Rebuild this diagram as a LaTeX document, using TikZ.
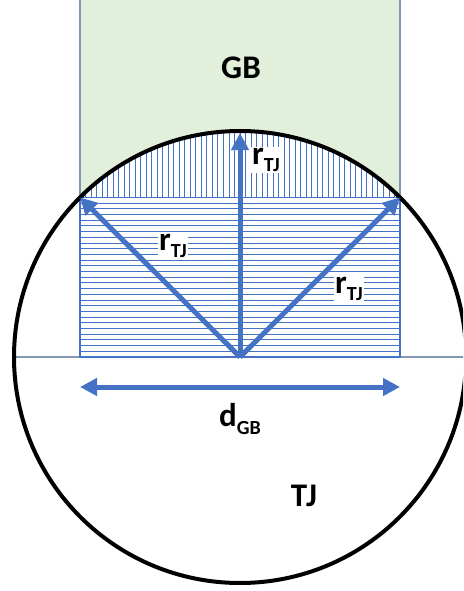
\documentclass[tikz,border=0pt]{standalone}
\usepackage{fontspec}
\setmainfont{Carlito}
\usetikzlibrary{arrows.meta}
\definecolor{gbgreen}{HTML}{E2EFDA}
\definecolor{tjblue}{HTML}{4472C4}
\definecolor{edgegray}{HTML}{8497B0}
\newcommand\lowsub[1]{\raisebox{-0.22em}{\fontsize{20}{20}\selectfont #1}}
\begin{document}
\begin{tikzpicture}[x=1pt,y=-1pt,
  hatch/.style={tjblue, line width=0.9pt},
  edgeline/.style={edgegray, line width=1.4pt},
  radiusarrow/.style={tjblue, line width=5pt, -{Triangle[length=17pt,width=17pt]}},
  diamarrow/.style={tjblue, line width=5pt, {Triangle[length=17pt,width=17pt]}-{Triangle[length=17pt,width=17pt]}},
  lbl/.style={font=\fontsize{33}{35}\selectfont\bfseries, inner sep=1pt},
  sublbl/.style={lbl, fill=white}]
\useasboundingbox (0,0) rectangle (463,591);
\clip (0,0) rectangle (463,591);
\coordinate (O) at (240,357);
\coordinate (L) at (80,197.4);
\coordinate (R) at (400,197.4);
\coordinate (T) at (240,133);
\coordinate (DL) at (80,387);
\coordinate (DR) at (400,387);
% grain boundary band
\fill[gbgreen] (80,0) rectangle (400,357);
\fill[white] (O) circle (226pt);
% vertical hatch in cap
\begin{scope}
  \clip (O) circle (226pt);
  \clip (80,0) rectangle (400,197.4);
  \foreach \i in {0,...,58} {
    \draw[hatch] ({80+\i*5.5172},120) -- ({80+\i*5.5172},197.4);
  }
\end{scope}
% horizontal hatch
\foreach \i in {0,...,28} {
  \draw[hatch] (80,{197.4+\i*5.7}) -- (400,{197.4+\i*5.7});
}
% edges
\draw[edgeline] (80,0) -- (80,357);
\draw[edgeline] (400,0) -- (400,357);
\draw[edgeline] (12,357) -- (468,357);
\draw[hatch, line width=1.4pt] (L) rectangle (400,357);
% circle
\draw[line width=4pt] (O) circle (226pt);
% arrows
\draw[radiusarrow] (O) -- (T);
\draw[radiusarrow] (O) -- (L);
\draw[radiusarrow] (O) -- (R);
\draw[diamarrow] (DL) -- (DR);
% labels
\node[lbl] (gb) at (241,68) {GB};
\node[sublbl] (rtop) at (266,160) {r\lowsub{TJ}};
\node[sublbl] (rleft) at (173,246) {r\lowsub{TJ}};
\node[sublbl] (rright) at (349,289) {r\lowsub{TJ}};
\node[lbl] (dgb) at (240,419) {d\lowsub{GB}};
\node[lbl] (tj) at (304,496) {TJ};
\end{tikzpicture}
\end{document}
